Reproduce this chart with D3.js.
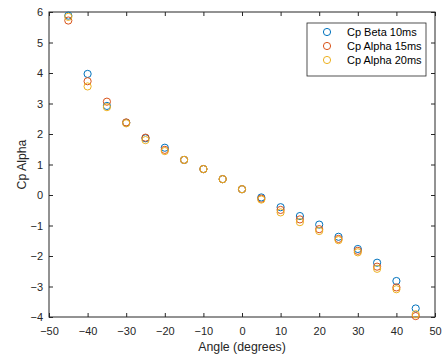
<!DOCTYPE html>
<html>
<head>
<meta charset="utf-8">
<script src="https://cdn.jsdelivr.net/npm/d3@7"></script>
<style>
  body { margin: 0; background: #fff; }
  text { font-family: Arial, "Liberation Sans", sans-serif; }
</style>
</head>
<body>
<svg id="chart" width="445" height="358"></svg>
<script>
// angles in degrees
var angles = [-45, -40, -35, -30, -25, -20, -15, -10, -5, 0, 5, 10, 15, 20, 25, 30, 35, 40, 45];

var cpBeta10 = [5.88, 3.97, 2.92, 2.37, 1.86, 1.55, 1.15, 0.85, 0.52, 0.19, -0.08, -0.40, -0.69, -0.97, -1.37, -1.77, -2.22, -2.82, -3.72];
var cpAlpha15 = [5.72, 3.73, 3.06, 2.38, 1.88, 1.48, 1.15, 0.85, 0.52, 0.19, -0.12, -0.49, -0.80, -1.12, -1.44, -1.83, -2.35, -3.03, -3.97];
var cpAlpha20 = [5.84, 3.56, 2.88, 2.35, 1.80, 1.44, 1.15, 0.85, 0.52, 0.19, -0.15, -0.57, -0.89, -1.18, -1.48, -1.88, -2.42, -3.09, -3.91];

var seriesNames = ["Cp Beta 10ms", "Cp Alpha 15ms", "Cp Alpha 20ms"];
var seriesColors = ["#0072BD", "#D95319", "#EDB120"];
var xTicks = [-50, -40, -30, -20, -10, 0, 10, 20, 30, 40, 50];
var yTicks = [-4, -3, -2, -1, 0, 1, 2, 3, 4, 5, 6];

var series = [cpBeta10, cpAlpha15, cpAlpha20].map(function(vals, i) {
  return {
    name: seriesNames[i],
    color: seriesColors[i],
    values: vals.map(function(v, j) { return {x: angles[j], y: v}; })
  };
});

var svg = d3.select("#chart"),
    margin = {top: 12, right: 10, bottom: 41, left: 49},
    width = +svg.attr("width") - margin.left - margin.right,
    height = +svg.attr("height") - margin.top - margin.bottom,
    g = svg.append("g").attr("transform", "translate(" + margin.left + "," + margin.top + ")");

var axisColor = "#262626";

var x = d3.scaleLinear().domain([-50, 50]).range([0, width]);
var y = d3.scaleLinear().domain([-4, 6]).range([height, 0]);

function styleAxis(sel) {
  sel.select(".domain").remove();
  sel.selectAll("line").attr("stroke", axisColor);
  sel.selectAll("text").attr("fill", axisColor).style("font-size", "11px");
}

// bottom axis
g.append("g")
    .attr("transform", "translate(0," + height + ")")
    .call(d3.axisBottom(x).tickValues(xTicks).tickSizeInner(-4).tickSizeOuter(0).tickPadding(10))
    .call(styleAxis);

// top ticks
g.append("g")
    .call(d3.axisTop(x).tickValues(xTicks).tickSizeInner(-4).tickSizeOuter(0).tickFormat(""))
    .call(styleAxis);

// left axis
g.append("g")
    .call(d3.axisLeft(y).tickValues(yTicks).tickSizeInner(-4).tickSizeOuter(0).tickPadding(6))
    .call(styleAxis);

// right ticks
g.append("g")
    .attr("transform", "translate(" + width + ",0)")
    .call(d3.axisRight(y).tickValues(yTicks).tickSizeInner(-4).tickSizeOuter(0).tickFormat(""))
    .call(styleAxis);

// box
g.append("rect")
    .attr("width", width)
    .attr("height", height)
    .attr("fill", "none")
    .attr("stroke", axisColor)
    .attr("stroke-width", 1);

// markers
series.forEach(function(s) {
  g.append("g").selectAll("circle")
      .data(s.values)
    .enter().append("circle")
      .attr("cx", function(d) { return x(d.x); })
      .attr("cy", function(d) { return y(d.y); })
      .attr("r", 3.6)
      .attr("fill", "none")
      .attr("stroke", s.color)
      .attr("stroke-width", 1);
});

// axis labels
svg.append("text")
    .attr("x", margin.left + width / 2)
    .attr("y", 351)
    .attr("text-anchor", "middle")
    .attr("fill", axisColor)
    .style("font-size", "12.3px")
    .text("Angle (degrees)");

svg.append("text")
    .attr("transform", "translate(26," + (margin.top + height / 2) + ") rotate(-90)")
    .attr("text-anchor", "middle")
    .attr("fill", axisColor)
    .style("font-size", "12.3px")
    .text("Cp Alpha");

// legend
var legend = svg.append("g").attr("transform", "translate(307,23)");
legend.append("rect")
    .attr("width", 119)
    .attr("height", 53)
    .attr("fill", "#fff")
    .attr("stroke", axisColor)
    .attr("stroke-width", 0.8);

series.forEach(function(s, i) {
  var row = legend.append("g").attr("transform", "translate(0," + (9 + i * 14) + ")");
  row.append("circle")
      .attr("cx", 20)
      .attr("cy", 0)
      .attr("r", 3.6)
      .attr("fill", "none")
      .attr("stroke", s.color)
      .attr("stroke-width", 1);
  row.append("text")
      .attr("x", 40)
      .attr("y", 0)
      .attr("dy", "0.35em")
      .attr("fill", "#000")
      .style("font-size", "11px")
      .text(s.name);
});
</script>
</body>
</html>
